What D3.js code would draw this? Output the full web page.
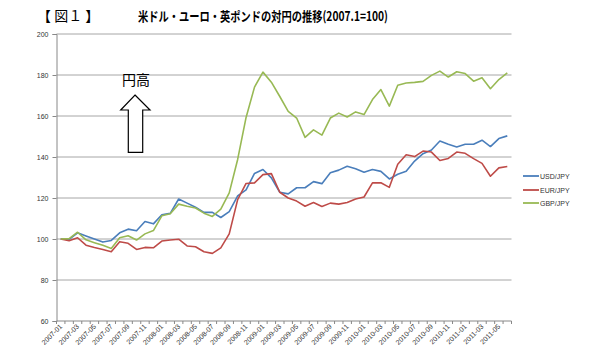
<!DOCTYPE html>
<html>
<head>
<meta charset="utf-8">
<script src="https://cdn.jsdelivr.net/npm/d3@7"></script>
<style>
  body { margin: 0; background: #fff; }
  svg { display: block; }
  .tick text { font-family: "Liberation Sans", Arial, sans-serif; font-size: 7px; fill: #333; }
</style>
</head>
<body>
<script>
var w = 600, h = 362;

// months 2007-01 .. 2011-06
var months = [];
for (var yr = 2007; yr <= 2011; yr++) {
  for (var m = 1; m <= 12; m++) {
    if (yr === 2011 && m > 6) break;
    months.push(yr + '-' + (m < 10 ? '0' + m : m));
  }
}

var usd = [100, 99.8, 103, 101.5, 100, 98.5, 99.3, 103, 104.8, 104, 108.5, 107.4, 111.8, 112.5,
  119.5, 117.5, 115.5, 113, 113, 110.5, 113.4, 121, 124, 132, 133.9, 129.8, 122.8, 122,
  125, 125, 128, 127, 132.3, 133.6, 135.5, 134.3, 132.6, 133.9, 133, 129.3, 131.6,
  133.1, 138, 141.6, 143.4, 147.8, 146.2, 144.9, 146.2, 146.2, 148.2, 145.1, 149, 150.3];

var eur = [100, 99.2, 100.6, 97, 95.9, 94.9, 93.8, 98.7, 97.9, 94.9, 95.9, 95.7, 99, 99.5,
  99.9, 96.6, 96.2, 93.8, 93, 95.7, 102.5, 119.2, 127.1, 127.4, 131.4, 131.9, 122.8, 120,
  118.5, 116, 117.8, 115.9, 117.5, 117, 117.8, 119.5, 120.5, 127.4, 127.4, 125.2, 136.5,
  141.1, 140.2, 142.9, 142.4, 138.3, 139.3, 142.4, 141.8, 139.2, 136.9, 130.6, 134.7, 135.4];

var gbp = [100, 100.2, 103.3, 99.6, 98.2, 96.9, 95.4, 100.6, 101.6, 99.5, 102.5, 104.1, 111.3, 112.3,
  117, 116, 115.1, 112.6, 111, 114.6, 122.5, 138.8, 159.3, 174.1, 181.4, 176.5, 169.5, 162.3,
  159, 149.6, 153.2, 150.7, 159, 161.4, 159.5, 162, 160.7, 168, 172.9, 164.8, 175,
  176.1, 176.4, 176.9, 179.8, 181.9, 179, 181.6, 180.7, 177, 178.7, 173.3, 177.8, 181];

var series = [
  { name: 'USD/JPY', values: usd, color: '#4a7ebb' },
  { name: 'EUR/JPY', values: eur, color: '#be4b48' },
  { name: 'GBP/JPY', values: gbp, color: '#98b954' }
];

var yTicks = [60, 80, 100, 120, 140, 160, 180, 200];

var svg = d3.select('body').append('svg').attr('width', w).attr('height', h);

var x = d3.scaleBand().domain(months).range([56.5, 511.5]);
var y = d3.scaleLinear().domain([60, 200]).range([321, 34]);
var cx = function(m) { return x(m) + x.bandwidth() / 2; };

// gridlines
svg.append('g')
  .selectAll('line')
  .data(yTicks.slice(1))
  .enter().append('line')
  .attr('x1', 56.5).attr('x2', 511.5)
  .attr('y1', function(d) { return y(d); })
  .attr('y2', function(d) { return y(d); })
  .attr('stroke', '#a6a6a6').attr('stroke-width', 1);

// y axis
var yAxis = svg.append('g')
  .attr('transform', 'translate(56.5,0)')
  .call(d3.axisLeft(y).tickValues(yTicks).tickSize(4).tickPadding(4));
yAxis.selectAll('line, path').attr('stroke', '#888');

// x axis line + ticks at category boundaries
svg.append('line')
  .attr('x1', 56.5).attr('x2', 511.5).attr('y1', y(60)).attr('y2', y(60))
  .attr('stroke', '#888');
svg.append('g')
  .selectAll('line')
  .data(months.concat(['end']))
  .enter().append('line')
  .attr('x1', function(d, i) { return 56.5 + i * x.step(); })
  .attr('x2', function(d, i) { return 56.5 + i * x.step(); })
  .attr('y1', y(60)).attr('y2', y(60) + 3)
  .attr('stroke', '#888');

svg.append('g')
  .selectAll('text')
  .data(months.filter(function(d, i) { return i % 2 === 0; }))
  .enter().append('text')
  .attr('transform', function(d) { return 'translate(' + (cx(d) + 2) + ',' + (y(60) + 6) + ') rotate(-45)'; })
  .attr('text-anchor', 'end')
  .attr('font-family', '"Liberation Sans", Arial, sans-serif')
  .attr('font-size', '7px')
  .attr('fill', '#333')
  .text(function(d) { return d; });

// lines
var line = d3.line()
  .x(function(d, i) { return cx(months[i]); })
  .y(function(d) { return y(d); });

svg.selectAll('path.series')
  .data(series)
  .enter().append('path')
  .attr('class', 'series')
  .attr('d', function(s) { return line(s.values); })
  .attr('fill', 'none')
  .attr('stroke', function(s) { return s.color; })
  .attr('stroke-width', 1.6)
  .attr('stroke-linejoin', 'round');

// legend
var lg = svg.append('g').selectAll('g')
  .data(series)
  .enter().append('g')
  .attr('transform', function(s, i) { return 'translate(523,' + [176, 190, 203][i] + ')'; });
lg.append('line').attr('x1', 0).attr('x2', 16)
  .attr('stroke', function(s) { return s.color; }).attr('stroke-width', 1.8);
lg.append('text').attr('x', 17).attr('y', 2.5)
  .attr('font-family', '"Liberation Sans", Arial, sans-serif')
  .attr('font-size', '7px').attr('fill', '#333')
  .text(function(s) { return s.name; });

// title
svg.append('text')
  .attr('x', 263).attr('y', 21)
  .attr('text-anchor', 'middle')
  .attr('font-family', '"Noto Sans CJK JP", sans-serif')
  .attr('font-size', '13px').attr('font-weight', 'bold')
  .attr('textLength', 250).attr('lengthAdjust', 'spacingAndGlyphs')
  .text('米ドル・ユーロ・英ポンドの対円の推移(2007.1=100)');

svg.append('text')
  .attr('x', 37).attr('y', 21)
  .attr('font-family', '"Noto Sans CJK JP", sans-serif')
  .attr('font-size', '14px')
  .text('【 図１ 】');

// arrow
svg.append('path')
  .attr('d', 'M135,95 L150,110 L142.7,110 L142.7,152.3 L128.3,152.3 L128.3,110 L120.7,110 Z')
  .attr('fill', '#fff').attr('stroke', '#000').attr('stroke-width', 1.2);

svg.append('text')
  .attr('x', 136).attr('y', 85)
  .attr('text-anchor', 'middle')
  .attr('font-family', '"Noto Sans CJK JP", sans-serif')
  .attr('font-size', '14px')
  .text('円高');
</script>
</body>
</html>
